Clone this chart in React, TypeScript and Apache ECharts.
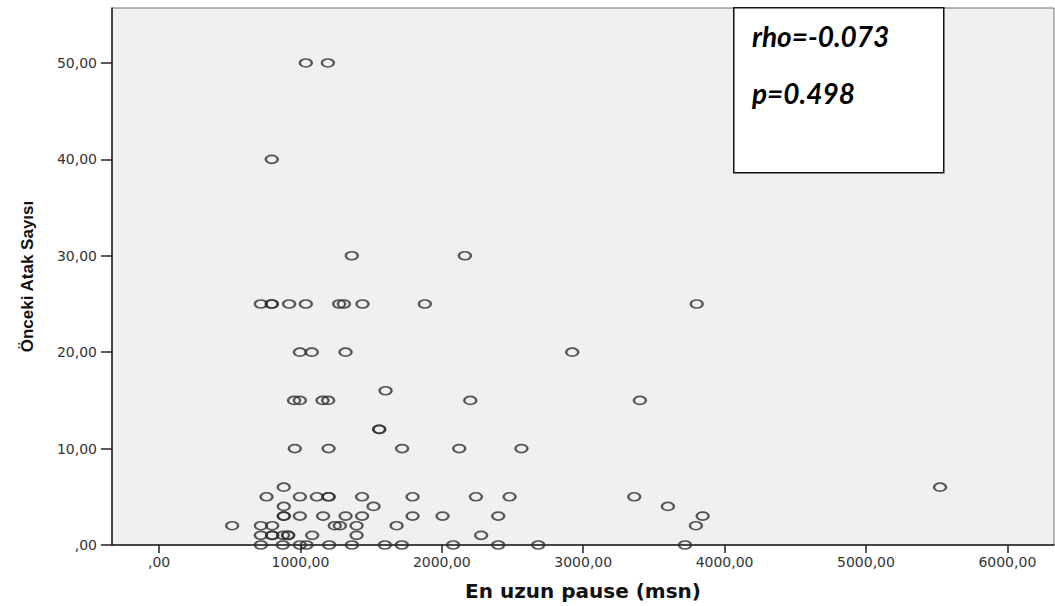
import React, { useEffect, useRef } from "react";
import * as echarts from "echarts";

// Tick values
const xTickValues = [0, 1000, 2000, 3000, 4000, 5000, 6000];
const yTickValues = [0, 10, 20, 30, 40, 50];

// Longest pause (msn)
const pauseMs = [
  1038, 1194,
  797,
  1363, 2163,
  720, 797, 797, 920, 1038, 1274, 1307, 1439, 1880, 3803,
  996, 1080, 1319, 2922,
  1602,
  955, 996, 1156, 1196, 2201, 3401,
  1557, 1557,
  960, 1199, 1719, 2123, 2563,
  882, 5524,
  760, 996, 1116, 1199, 1199, 1436, 1793, 2241, 2479, 3361,
  882, 1517, 3599,
  882, 882, 996, 1160, 1319, 1436, 1793, 2005, 2399, 3845,
  517, 720, 800, 1243, 1279, 1397, 1680, 3797,
  720, 800, 800, 877, 913, 913, 1083, 1397, 2278,
  720, 875, 996, 1043, 1203, 1364, 1597, 1717, 2080, 2399, 2682, 3720,
];

// Previous attack count
const prevAttacks = [
  50, 50,
  40,
  30, 30,
  25, 25, 25, 25, 25, 25, 25, 25, 25, 25,
  20, 20, 20, 20,
  16,
  15, 15, 15, 15, 15, 15,
  12, 12,
  10, 10, 10, 10, 10,
  6, 6,
  5, 5, 5, 5, 5, 5, 5, 5, 5, 5,
  4, 4, 4,
  3, 3, 3, 3, 3, 3, 3, 3, 3, 3,
  2, 2, 2, 2, 2, 2, 2, 2,
  1, 1, 1, 1, 1, 1, 1, 1, 1,
  0, 0, 0, 0, 0, 0, 0, 0, 0, 0, 0, 0,
];

const statLines = ["rho=-0.073", "p=0.498"];
const xTitle = "En uzun pause (msn)";
const yTitle = "Önceki Atak Sayısı";

const fmt = (v: number) => (v === 0 ? ",00" : v.toFixed(2).replace(".", ","));

export default function App() {
  const ref = useRef<HTMLDivElement>(null);

  useEffect(() => {
    if (!ref.current) return;
    const chart = echarts.init(ref.current, null, { renderer: "svg" });
    const data = pauseMs.map((x, i) => [x, prevAttacks[i]]);
    const labelFont = {
      fontFamily: "DejaVu Sans",
      fontSize: 14,
      color: "#333",
    };
    chart.setOption({
      animation: false,
      backgroundColor: "#ffffff",
      grid: {
        left: 112,
        right: 1,
        top: 8,
        bottom: 60,
        show: true,
        backgroundColor: "#f0f0f0",
        borderColor: "#707070",
        borderWidth: 1,
      },
      xAxis: {
        type: "value",
        min: -333,
        max: 6330,
        name: xTitle,
        nameLocation: "middle",
        nameGap: 36,
        nameTextStyle: {
          fontFamily: "DejaVu Sans",
          fontWeight: "bold",
          fontSize: 20,
          color: "#111",
        },
        splitLine: { show: false },
        axisLine: { show: true, onZero: false, lineStyle: { color: "#222", width: 1.5 } },
        axisTick: {
          show: true,
          length: 8,
          customValues: xTickValues,
          lineStyle: { color: "#222", width: 1.5 },
        },
        axisLabel: {
          ...labelFont,
          margin: 10,
          customValues: xTickValues,
          formatter: (v: number) => fmt(v),
        },
      },
      yAxis: {
        type: "value",
        min: 0,
        max: 55.7,
        name: yTitle,
        nameLocation: "middle",
        nameRotate: 90,
        nameGap: 76,
        nameTextStyle: {
          fontFamily: "Liberation Sans",
          fontWeight: "bold",
          fontSize: 17,
          color: "#111",
        },
        splitLine: { show: false },
        axisLine: { show: true, onZero: false, lineStyle: { color: "#222", width: 1.5 } },
        axisTick: {
          show: true,
          length: 11,
          customValues: yTickValues,
          lineStyle: { color: "#222", width: 1.5 },
        },
        axisLabel: {
          ...labelFont,
          margin: 15,
          customValues: yTickValues,
          formatter: (v: number) => fmt(v),
        },
      },
      series: [
        {
          type: "scatter",
          data,
          symbol: "path://M0,5a7,5 0 1,0 14,0a7,5 0 1,0 -14,0z",
          symbolSize: [12, 8],
          itemStyle: {
            color: "rgba(0,0,0,0)",
            borderColor: "#2e2e2e",
            borderWidth: 2,
          },
          emphasis: { disabled: true },
        },
      ],
      graphic: [
        {
          type: "rect",
          left: 733,
          top: 7,
          shape: { width: 210, height: 165 },
          style: { fill: "#ffffff", stroke: "#111", lineWidth: 1.5 },
          z: 100,
        },
        {
          type: "text",
          left: 752,
          top: 22,
          style: {
            text: statLines[0],
            font: "italic bold 28px Lato",
            fill: "#000",
          },
          z: 101,
        },
        {
          type: "text",
          left: 752,
          top: 79,
          style: {
            text: statLines[1],
            font: "italic bold 28px Lato",
            fill: "#000",
          },
          z: 101,
        },
      ],
    });
    return () => chart.dispose();
  }, []);

  return (
    <div
      ref={ref}
      style={{ position: "fixed", left: 0, top: 0, width: 1055, height: 606 }}
    />
  );
}
